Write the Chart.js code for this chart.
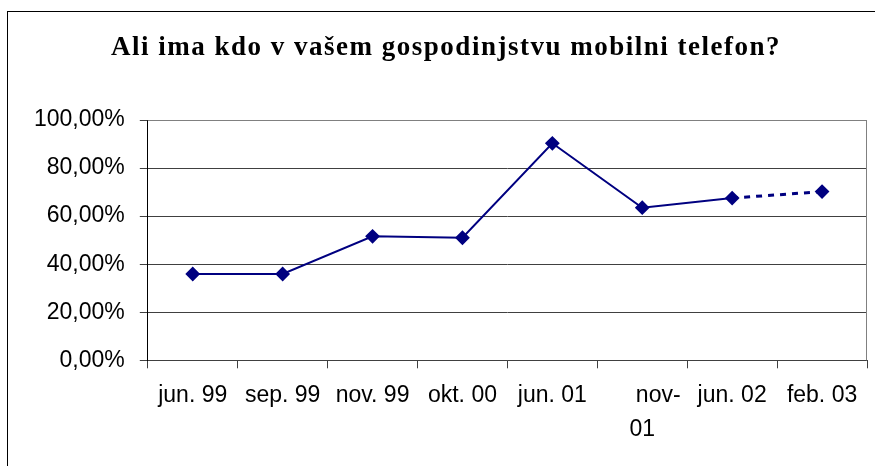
<!DOCTYPE html>
<html>
<head>
<meta charset="utf-8">
<script src="https://cdn.jsdelivr.net/npm/chart.js@4/dist/chart.umd.min.js"></script>
<style>
  html, body { margin: 0; padding: 0; background: #fff; overflow: hidden; }
  #frame { position: absolute; left: 7px; top: 11px; width: 900px; height: 500px; border: 1px solid #000; }
  #wrap { position: absolute; left: 0; top: 0; width: 875px; height: 466px; }
  #title {
    position: absolute; left: 0; top: 31px; width: 892px; text-align: center;
    font: bold 27px 'Liberation Serif', 'Times New Roman', serif; letter-spacing: 1.5px;
    line-height: 31px; color: #000; white-space: nowrap;
  }
</style>
</head>
<body>
<div id="frame"></div>
<div id="wrap"><canvas id="chart" width="875" height="466"></canvas></div>
<div id="title">Ali ima kdo v vašem gospodinjstvu mobilni telefon?</div>
<script>
// Survey periods (x categories)
const periods = ['jun. 99', 'sep. 99', 'nov. 99', 'okt. 00', 'jun. 01', ['     nov-', '01'], 'jun. 02', 'feb. 03'];
// Share of households with a mobile phone, in percent
const shareValues = [35.9, 35.9, 51.6, 51.0, 90.3, 63.5, 67.5, 70.2];
// Y axis ticks
const yTicks = [0, 20, 40, 60, 80, 100];

const navy = '#000080';

// Draw the grey frame on the top and right of the plot area
const plotFrame = {
    id: 'plotFrame',
    afterDatasetsDraw(chart) {
        const { ctx, chartArea } = chart;
        ctx.save();
        ctx.strokeStyle = '#808080';
        ctx.lineWidth = 1;
        ctx.beginPath();
        ctx.moveTo(chartArea.left, chartArea.top + 0.5);
        ctx.lineTo(chartArea.right - 0.5, chartArea.top + 0.5);
        ctx.lineTo(chartArea.right - 0.5, chartArea.bottom);
        ctx.stroke();
        ctx.restore();
    }
};

new Chart(document.getElementById('chart').getContext('2d'), {
    type: 'line',
    data: {
        labels: periods,
        datasets: [{
            data: shareValues,
            borderColor: navy,
            backgroundColor: navy,
            borderWidth: 2,
            pointStyle: 'rectRot',
            pointRadius: 6,
            pointHoverRadius: 6,
            pointBackgroundColor: navy,
            pointBorderColor: navy,
            tension: 0,
            fill: false,
            segment: {
                borderDash: ctx => ctx.p0DataIndex === 6 ? [6, 6] : undefined,
                borderWidth: ctx => ctx.p0DataIndex === 6 ? 3 : undefined
            }
        }]
    },
    options: {
        responsive: false,
        animation: false,
        layout: { padding: { left: 19, right: 8, top: 120, bottom: 9 } },
        plugins: {
            legend: { display: false },
            tooltip: { enabled: false },
            title: { display: false }
        },
        scales: {
            x: {
                type: 'category',
                offset: true,
                grid: {
                    offset: true,
                    drawOnChartArea: false,
                    drawTicks: true,
                    tickLength: 8,
                    color: '#404040'
                },
                border: { color: '#404040' },
                ticks: {
                    color: '#000',
                    maxRotation: 0,
                    autoSkip: false,
                    padding: 11,
                    font: { family: "'Liberation Sans', Arial, sans-serif", size: 23, lineHeight: 1.45 }
                }
            },
            y: {
                min: 0,
                max: 100,
                afterBuildTicks: axis => { axis.ticks = yTicks.map(v => ({ value: v })); },
                grid: {
                    color: ctx => ctx.tick && ctx.tick.value === 100 ? '#808080' : '#404040',
                    tickLength: 8,
                    tickColor: '#404040'
                },
                border: { color: '#000' },
                ticks: {
                    color: '#000',
                    padding: 15,
                    font: { family: "'Liberation Sans', Arial, sans-serif", size: 23 },
                    callback: v => v.toFixed(2).replace('.', ',') + '%'
                }
            }
        }
    },
    plugins: [plotFrame]
});
</script>
</body>
</html>
